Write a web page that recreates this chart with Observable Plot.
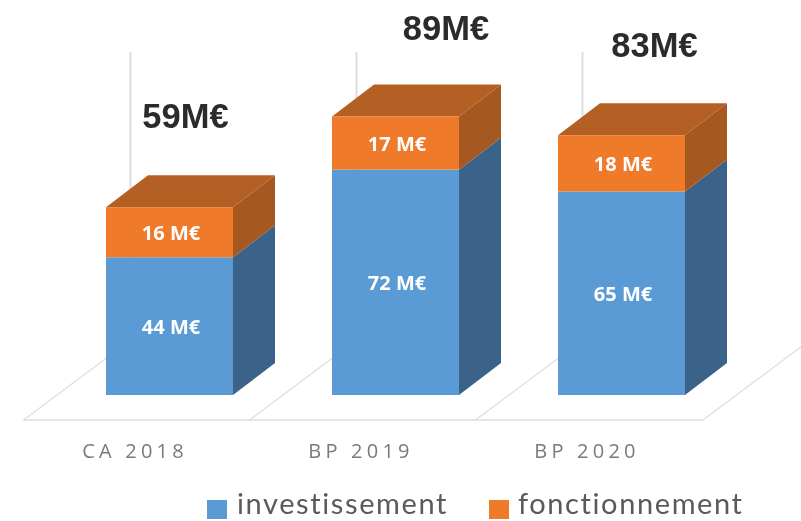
<!DOCTYPE html>
<html lang="fr">
<head>
<meta charset="utf-8">
<script src="https://cdn.jsdelivr.net/npm/d3@7"></script>
<script src="https://cdn.jsdelivr.net/npm/@observablehq/plot@0.6"></script>
<style>
  html, body { margin: 0; padding: 0; background: #fff; overflow: hidden; }
  #chart svg { display: block; filter: blur(0.4px); }
  #chart g[aria-label="x-axis tick label"] { letter-spacing: 4.2px; }
  #legend { position: relative; height: 33px; font: 400 29px Lato, sans-serif; color: #5a5a5a; letter-spacing: 1.6px; white-space: nowrap; filter: blur(0.4px); }
  #legend i { position: absolute; top: 12px; width: 20px; height: 19px; }
  #legend span { position: absolute; top: 0; line-height: 30px; }
</style>
</head>
<body>
<div id="chart"></div>
<div id="legend"></div>
<script>
const categories = ["CA 2018", "BP 2019", "BP 2020"];
const investissement = [44, 72, 65];
const fonctionnement = [16, 17, 18];
const totalLabels = ["59M€", "89M€", "83M€"];
const seriesNames = ["investissement", "fonctionnement"];
const seriesColors = ["#5b9bd5", "#ef7b2a"];
const segmentLabels = [["44 M€", "72 M€", "65 M€"], ["16 M€", "17 M€", "18 M€"]];

const rows = categories.flatMap((category, i) => [
  {category, series: seriesNames[0], value: investissement[i], label: segmentLabels[0][i]},
  {category, series: seriesNames[1], value: fonctionnement[i], label: segmentLabels[1][i]}
]);

const depthX = 42, depthY = -32;
const polygon = (g, points, fill) =>
  g.append("polygon").attr("points", points.map((p) => p.join(",")).join(" ")).attr("fill", fill);

// Receding floor and back walls, positioned from the scales
const floorAndWalls = (index, {x, y}) => {
  const g = d3.create("svg:g").attr("fill", "none");
  const base = y(0);
  const front = base + 25, back = front - 80, top = front - 368;
  const stroke = (a, b, w) => g.append("line")
    .attr("x1", a[0]).attr("y1", a[1]).attr("x2", b[0]).attr("y2", b[1])
    .attr("stroke", "#dedede").attr("stroke-width", w);
  const lefts = categories.map((c) => x(c) - 82.5);
  const end = x(categories[2]) + x.bandwidth() + 18;
  stroke([lefts[0], front], [end, front], 1.6);
  [...lefts, end].forEach((l) => stroke([l, front], [l + 107, back], 1.2));
  lefts.forEach((l) => stroke([l + 107, back], [l + 107, top], 2));
  return g.node();
};

// Top and right faces of each stacked box
const depthFaces = (index, {x, y}) => {
  const g = d3.create("svg:g");
  const w = x.bandwidth();
  categories.forEach((c, i) => {
    const l = x(c), r = l + w;
    const y0 = y(0), y1 = y(investissement[i]), y2 = y(investissement[i] + fonctionnement[i]);
    polygon(g, [[r, y0], [r + depthX, y0 + depthY], [r + depthX, y1 + depthY], [r, y1]], "#3b6288");
    polygon(g, [[r, y1], [r + depthX, y1 + depthY], [r + depthX, y2 + depthY], [r, y2]], "#a5581f");
    polygon(g, [[l, y2], [l + depthX, y2 + depthY], [r + depthX, y2 + depthY], [r, y2]], "#b46024");
  });
  return g.node();
};

const totalMark = (i, dx, dy) => Plot.text([totalLabels[i]], {
  x: () => categories[i],
  y: () => investissement[i] + fonctionnement[i],
  text: (d) => d,
  dx, dy,
  fill: "#2b2b2b",
  fontSize: 34.5,
  fontWeight: 700,
  fontFamily: "Liberation Sans"
});

const chart = Plot.plot({
  width: 801,
  height: 488,
  marginTop: 82,
  marginBottom: 93,
  marginLeft: 5,
  marginRight: 16,
  style: {background: "#fff"},
  x: {domain: categories, padding: 0.44, label: null},
  y: {domain: [0, 100], axis: null},
  color: {domain: seriesNames, range: seriesColors},
  marks: [
    floorAndWalls,
    depthFaces,
    Plot.barY(rows, {x: "category", y: "value", fill: "series", order: seriesNames}),
    Plot.text(rows, Plot.stackY({
      x: "category", y: "value", z: "series", order: seriesNames, text: "label", dx: 1, dy: 1,
      fill: "#fff", fontSize: 20, fontWeight: 700, fontFamily: "Open Sans"
    })),
    totalMark(0, 15.5, -91),
    totalMark(1, 50, -88),
    totalMark(2, 32.5, -90),
    Plot.axisX({
      dx: -35,
      tickSize: 0,
      tickPadding: 48,
      fontSize: 20,
      fontFamily: "Open Sans",
      fill: "#7a7a7a",
      label: null
    })
  ]
});
document.getElementById("chart").append(chart);

const legend = d3.select("#legend");
const legendPos = [[207, 237], [489, 518]];
seriesNames.forEach((name, i) => {
  legend.append("i").style("left", legendPos[i][0] + "px").style("background", seriesColors[i]);
  legend.append("span").style("left", legendPos[i][1] + "px").text(name);
});
</script>
</body>
</html>
